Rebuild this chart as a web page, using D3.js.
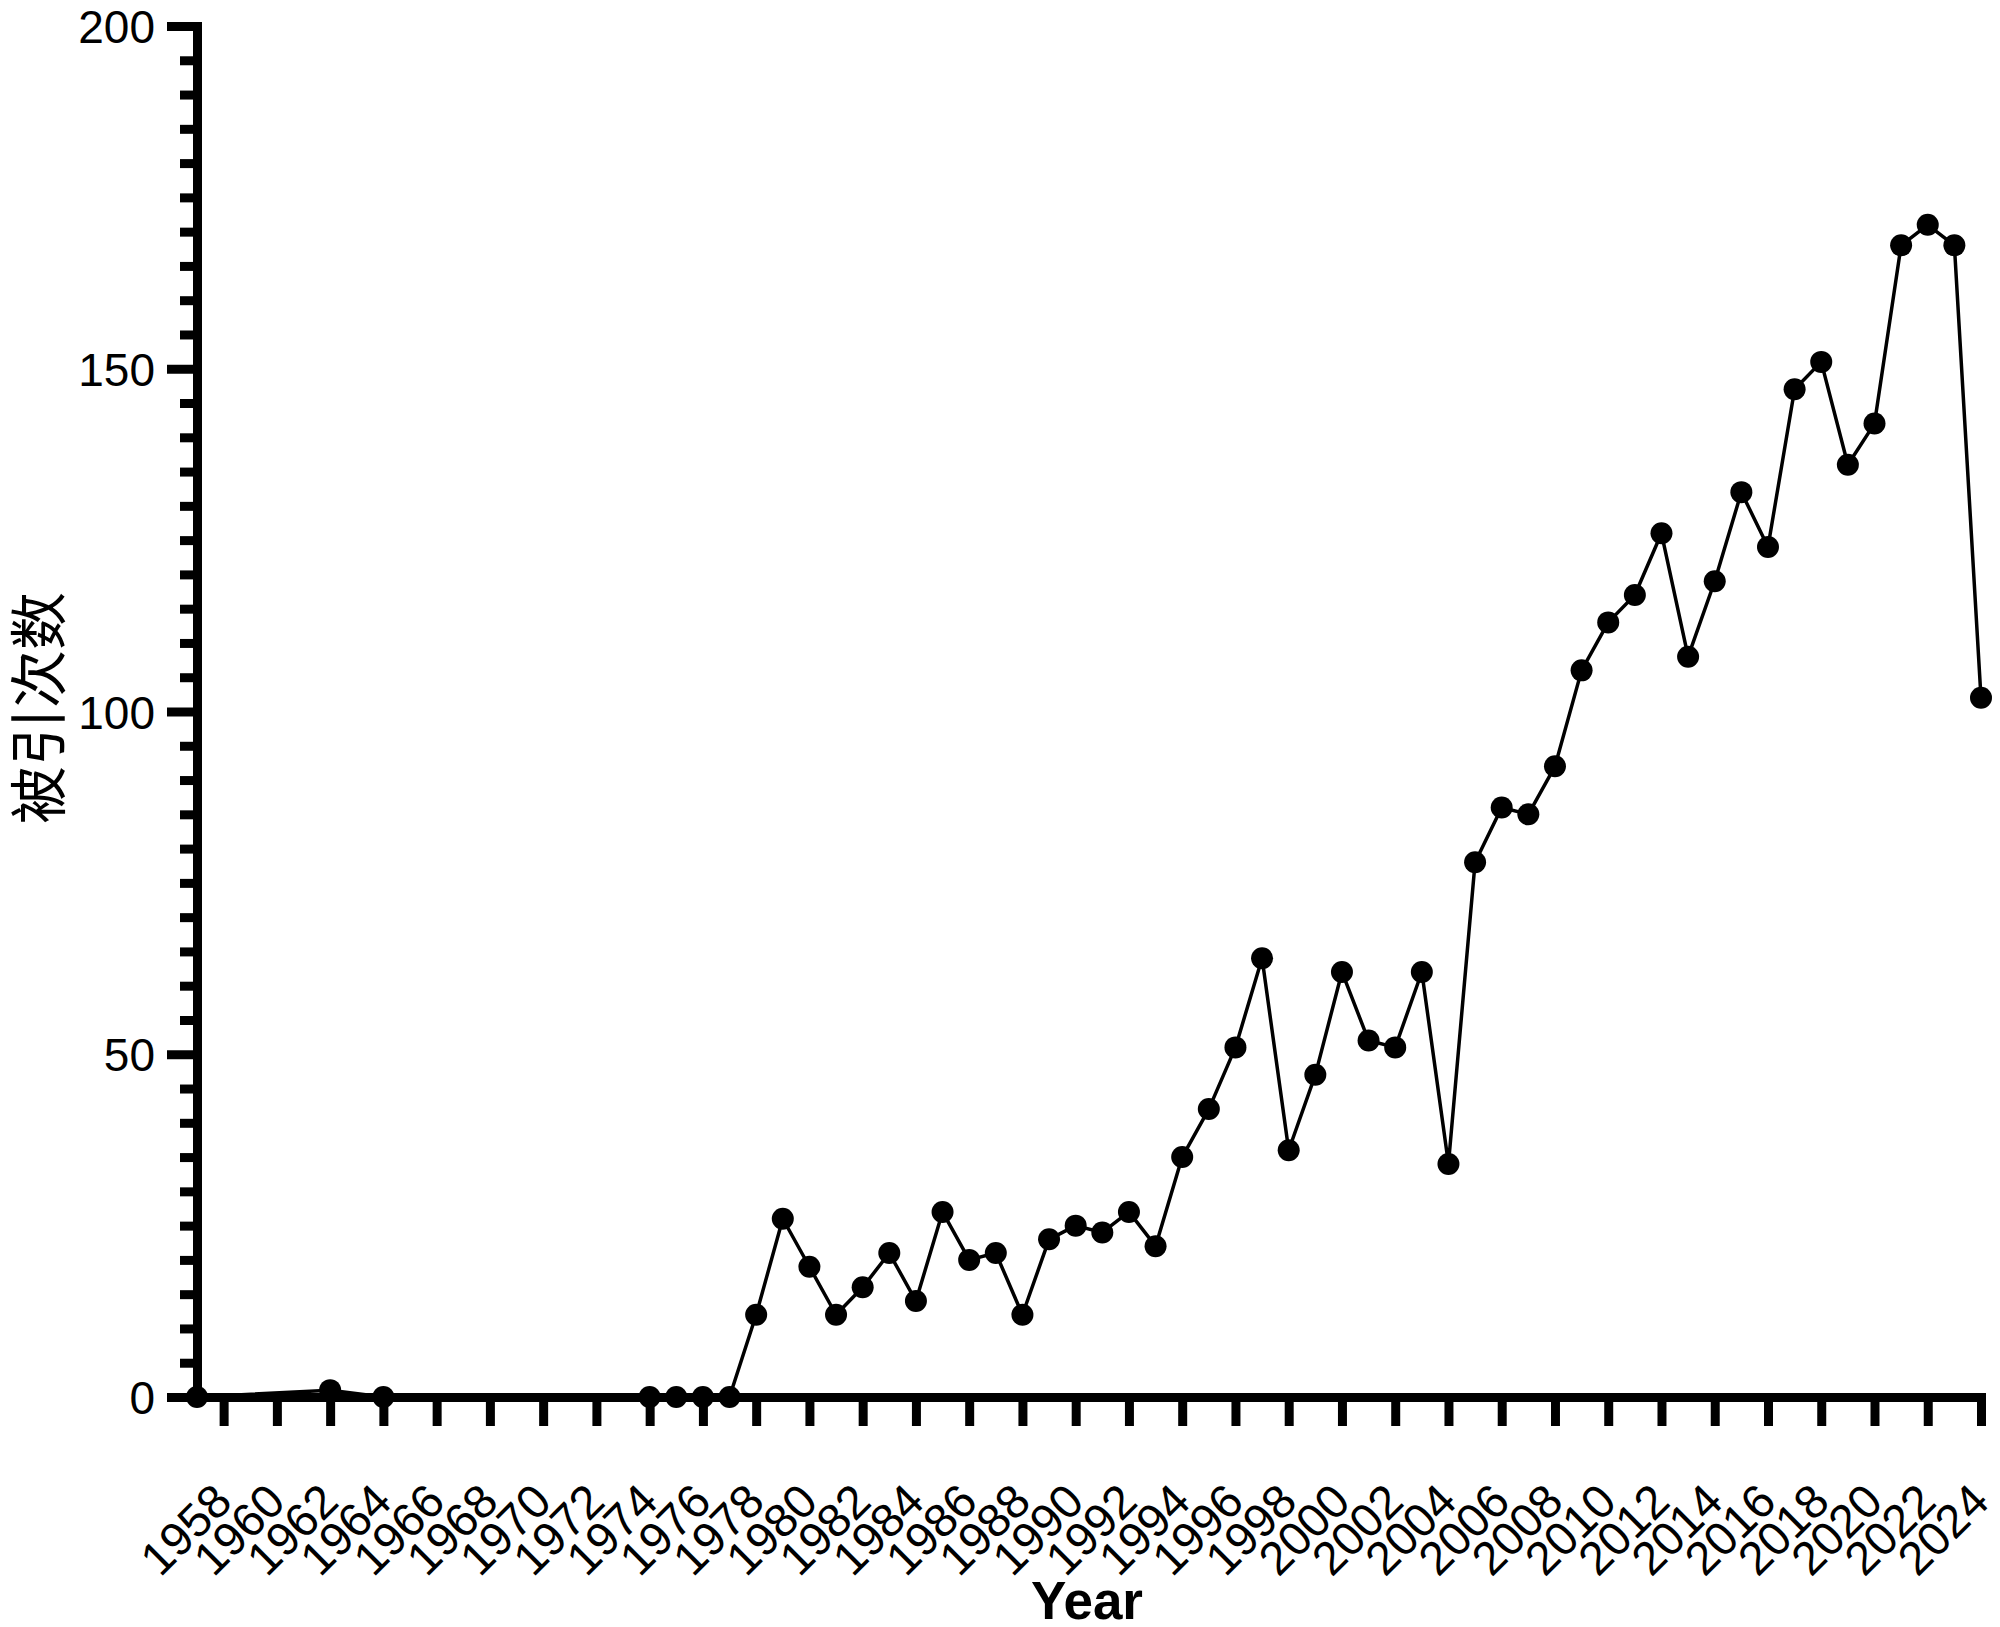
<!DOCTYPE html>
<html>
<head>
<meta charset="utf-8">
<script src="https://cdn.jsdelivr.net/npm/d3@7"></script>
<style>
  html, body { margin: 0; padding: 0; background: #fff; }
  svg { display: block; }
</style>
</head>
<body>
<script>
// ---- data ----
const years = [1957, 1962, 1964,
  1974, 1975, 1976, 1977, 1978, 1979, 1980, 1981, 1982, 1983, 1984, 1985, 1986, 1987, 1988, 1989,
  1990, 1991, 1992, 1993, 1994, 1995, 1996, 1997, 1998, 1999, 2000, 2001, 2002, 2003, 2004, 2005,
  2006, 2007, 2008, 2009, 2010, 2011, 2012, 2013, 2014, 2015, 2016, 2017, 2018, 2019, 2020, 2021,
  2022, 2023, 2024];
const citations = [0, 1, 0,
  0, 0, 0, 0, 12, 26, 19, 12, 16, 21, 14, 27, 20, 21, 12, 23,
  25, 24, 27, 22, 35, 42, 51, 64, 36, 47, 62, 52, 51, 62, 34, 78,
  86, 85, 92, 106, 113, 117, 126, 108, 119, 132, 124, 147, 151, 136, 142, 168,
  171, 168, 102];
const xTickYears = [1958, 1960, 1962, 1964, 1966, 1968, 1970, 1972, 1974, 1976, 1978, 1980,
  1982, 1984, 1986, 1988, 1990, 1992, 1994, 1996, 1998, 2000, 2002, 2004, 2006, 2008, 2010,
  2012, 2014, 2016, 2018, 2020, 2022, 2024];
const yMajorTicks = [0, 50, 100, 150, 200];
const yMinorTicks = [5, 10, 15, 20, 25, 30, 35, 40, 45, 55, 60, 65, 70, 75, 80, 85, 90, 95,
  105, 110, 115, 120, 125, 130, 135, 140, 145, 155, 160, 165, 170, 175, 180, 185, 190, 195];
const xTitle = "Year";
const yTitle = "被引次数";

// ---- layout ----
const W = 2000, H = 1627;
const svg = d3.select("body").append("svg").attr("width", W).attr("height", H);

const x = d3.scaleLinear().domain([1957, 2024]).range([197, 1981]);
const y = d3.scaleLinear().domain([0, 200]).range([1397, 26]);

const AX = 9;
const tickFont = "'Liberation Sans', Arial, Helvetica, sans-serif";

// minor y ticks
const gMinor = svg.append("g").attr("transform", `translate(${x(1957)},0)`)
  .call(d3.axisLeft(y).tickValues(yMinorTicks).tickSize(17).tickSizeOuter(0).tickFormat(""));
gMinor.select(".domain").remove();
gMinor.selectAll(".tick line").attr("stroke", "#000").attr("stroke-width", AX);

// major y axis
const gY = svg.append("g").attr("transform", `translate(${x(1957)},0)`)
  .call(d3.axisLeft(y).tickValues(yMajorTicks).tickSize(30).tickSizeOuter(0).tickPadding(12));
gY.select(".domain").attr("stroke", "#000").attr("stroke-width", AX).attr("stroke-linecap", "square");
gY.selectAll(".tick line").attr("stroke", "#000").attr("stroke-width", AX);
gY.selectAll(".tick text").attr("font-family", tickFont).attr("font-size", 46)
  .attr("fill", "#000").attr("dy", "0.36em").attr("x", -42);

// x axis
const gX = svg.append("g").attr("transform", `translate(0,${y(0)})`)
  .call(d3.axisBottom(x).tickValues(xTickYears).tickSize(29).tickSizeOuter(0).tickFormat(d3.format("d")));
gX.select(".domain").attr("stroke", "#000").attr("stroke-width", AX).attr("stroke-linecap", "square");
gX.selectAll(".tick line").attr("stroke", "#000").attr("stroke-width", AX);
gX.selectAll(".tick text").attr("font-family", tickFont).attr("font-size", 47).attr("fill", "#000")
  .attr("text-anchor", "end").attr("dy", null).attr("y", null)
  .attr("transform", "translate(10,107) rotate(-45)");

// line + points
const line = d3.line().x((d, i) => x(years[i])).y(d => y(d));
svg.append("path").datum(citations).attr("d", line)
  .attr("fill", "none").attr("stroke", "#000").attr("stroke-width", 3.5).attr("stroke-linejoin", "round");
svg.append("g").selectAll("circle").data(citations).join("circle")
  .attr("cx", (d, i) => x(years[i])).attr("cy", d => y(d)).attr("r", 11).attr("fill", "#000");

// titles
svg.append("text").text(xTitle).attr("x", 1087).attr("y", 1619)
  .attr("text-anchor", "middle").attr("font-family", tickFont).attr("font-weight", "bold")
  .attr("font-size", 53).attr("fill", "#000");
svg.append("text").text(yTitle).attr("transform", "translate(60,708) rotate(-90)")
  .attr("text-anchor", "middle").attr("font-family", "'Noto Sans CJK SC', sans-serif")
  .attr("font-size", 58).attr("fill", "#000");
</script>
</body>
</html>
